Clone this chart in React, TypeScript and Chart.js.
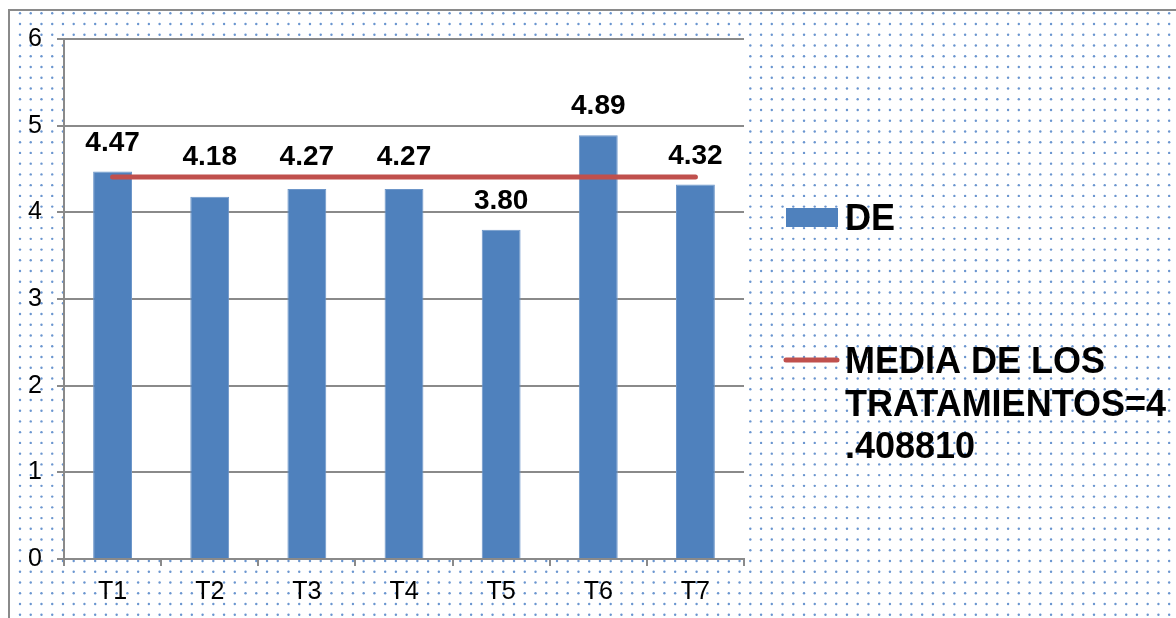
import React, { useEffect, useRef } from "react";
import { Chart, registerables } from "chart.js";

Chart.register(...registerables);

const categories = ["T1", "T2", "T3", "T4", "T5", "T6", "T7"];
const deValues = [4.47, 4.18, 4.27, 4.27, 3.8, 4.89, 4.32];
const MEAN = 4.40881;
const meanValues = categories.map(() => MEAN);
const barLabel = "DE";
const meanLabel = `MEDIA DE LOS TRATAMIENTOS=${MEAN.toFixed(6)}`;
const yTicks = [0, 1, 2, 3, 4, 5, 6];

const BLUE = "#4F81BD";
const RED = "#C0504D";
const GRID = "#8a8a8a";
const FONT = "'Liberation Sans', Arial, sans-serif";

function wrapText(ctx: CanvasRenderingContext2D, text: string, maxW: number): string[] {
  const words = text.split(" ");
  const lines: string[] = [];
  let cur = "";
  for (const w of words) {
    const trial = cur ? cur + " " + w : w;
    if (ctx.measureText(trial).width <= maxW) {
      cur = trial;
      continue;
    }
    if (cur) lines.push(cur);
    cur = "";
    let piece = "";
    for (const ch of w) {
      if (ctx.measureText(piece + ch).width <= maxW) piece += ch;
      else {
        lines.push(piece);
        piece = ch;
      }
    }
    cur = piece;
  }
  if (cur) lines.push(cur);
  return lines;
}

const backgroundPlugin = {
  id: "bgDots",
  beforeDraw(chart: any) {
    const { ctx, width, height, chartArea } = chart;
    ctx.save();
    ctx.fillStyle = "#ffffff";
    ctx.fillRect(0, 0, width, height);
    const step = 10.74;
    ctx.fillStyle = "#6a95cf";
    for (let y = 13.3; y < height; y += step) {
      for (let x = 20 - step; x < width; x += step) {
        if (x < 11) continue;
        ctx.beginPath();
        ctx.arc(x, y, 1.2, 0, Math.PI * 2);
        ctx.fill();
      }
    }
    ctx.strokeStyle = GRID;
    ctx.lineWidth = 2;
    ctx.beginPath();
    ctx.moveTo(9, height);
    ctx.lineTo(9, 10);
    ctx.lineTo(width, 10);
    ctx.stroke();
    ctx.fillStyle = "#ffffff";
    ctx.fillRect(chartArea.left, chartArea.top, chartArea.right - chartArea.left, chartArea.bottom - chartArea.top);
    ctx.restore();
  },
};

const labelsPlugin = {
  id: "valueLabels",
  afterDatasetsDraw(chart: any) {
    const { ctx } = chart;
    const barIdx = chart.data.datasets.findIndex((d: any) => d.type === "bar");
    const lineIdx = chart.data.datasets.findIndex((d: any) => d.type === "line");
    const meta = chart.getDatasetMeta(barIdx);
    const yScale = chart.scales.y;
    const lineY = yScale.getPixelForValue(chart.data.datasets[lineIdx].data[0]);
    ctx.save();
    ctx.font = `bold 28px ${FONT}`;
    ctx.fillStyle = "#000";
    ctx.textAlign = "center";
    ctx.textBaseline = "middle";
    meta.data.forEach((bar: any, i: number) => {
      let cy = bar.y - 28.5;
      if (Math.abs(cy - lineY) < 10 + 2.5 + 4) cy = lineY - 20;
      ctx.fillText(chart.data.datasets[barIdx].data[i].toFixed(2), bar.x, cy);
    });
    ctx.restore();
  },
  afterDraw(chart: any) {
    const { ctx, width } = chart;
    const ds = chart.data.datasets;
    const bar = ds.find((d: any) => d.type === "bar");
    const line = ds.find((d: any) => d.type === "line");
    ctx.save();
    ctx.font = `bold 36px ${FONT}`;
    ctx.textAlign = "left";
    ctx.textBaseline = "alphabetic";
    ctx.fillStyle = bar.backgroundColor;
    ctx.fillRect(786, 208, 52, 19);
    ctx.fillStyle = "#000";
    ctx.fillText(bar.label, 845, 230);
    ctx.strokeStyle = line.borderColor;
    ctx.lineWidth = 5;
    ctx.lineCap = "round";
    ctx.beginPath();
    ctx.moveTo(786, 360);
    ctx.lineTo(837, 360);
    ctx.stroke();
    const lines = wrapText(ctx, line.label, width - 845 - 1);
    lines.forEach((t, i) => ctx.fillText(t, 845, 373 + i * 42.5));
    ctx.restore();
  },
};

export default function App() {
  const ref = useRef<HTMLCanvasElement | null>(null);
  useEffect(() => {
    if (!ref.current) return;
    const chart = new Chart(ref.current, {
      type: "bar",
      data: {
        labels: categories,
        datasets: [
          {
            type: "line",
            label: meanLabel,
            data: meanValues,
            borderColor: RED,
            backgroundColor: RED,
            borderWidth: 5,
            borderCapStyle: "round",
            pointRadius: 0,
            fill: false,
            order: 0,
          } as any,
          {
            type: "bar",
            label: barLabel,
            data: deValues,
            backgroundColor: BLUE,
            borderColor: "#6d96c9",
            borderWidth: 1,
            barPercentage: 0.4,
            categoryPercentage: 1,
            order: 1,
          } as any,
        ],
      },
      options: {
        responsive: false,
        animation: false,
        devicePixelRatio: 1,
        layout: { padding: { top: 39, right: 432, bottom: 0, left: 0 } },
        plugins: { legend: { display: false }, tooltip: { enabled: false } },
        scales: {
          x: {
            offset: true,
            grid: {
              offset: true,
              drawOnChartArea: false,
              drawTicks: true,
              tickLength: 7,
              color: GRID,
              lineWidth: 2,
            },
            border: { display: true, color: GRID, width: 2 },
            ticks: { color: "#000", font: { family: FONT, size: 25 }, padding: 11 },
            afterFit: (s: any) => {
              s.height = 59;
            },
          },
          y: {
            min: 0,
            max: 6,
            afterBuildTicks: (s: any) => {
              s.ticks = yTicks.map((v) => ({ value: v }));
            },
            grid: { color: GRID, lineWidth: 2, tickLength: 7, drawTicks: true },
            border: { display: true, color: GRID, width: 2 },
            ticks: { color: "#000", font: { family: FONT, size: 25 }, padding: 15 },
            afterFit: (s: any) => {
              s.width = 64;
            },
          },
        },
      },
      plugins: [backgroundPlugin, labelsPlugin],
    });
    return () => chart.destroy();
  }, []);
  return (
    <div style={{ position: "fixed", left: 0, top: 0, width: 1176, height: 618, overflow: "hidden", background: "#fff" }}>
      <canvas ref={ref} width={1176} height={618} style={{ display: "block" }} />
    </div>
  );
}
